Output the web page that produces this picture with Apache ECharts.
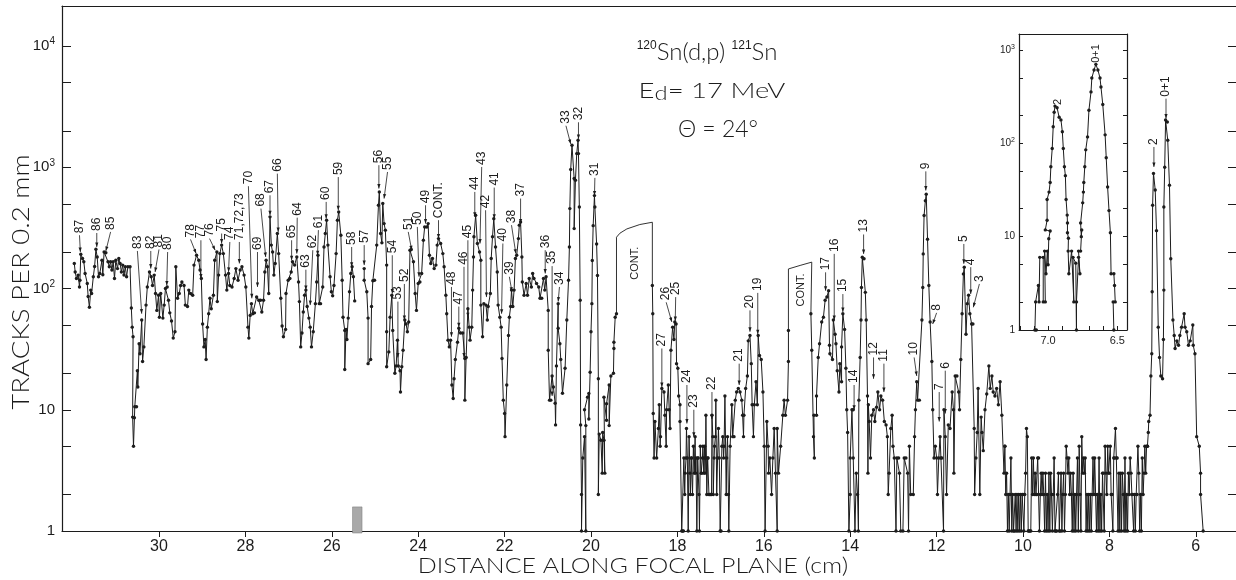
<!DOCTYPE html>
<html><head><meta charset="utf-8">
<style>html,body{margin:0;padding:0;background:#fff}#c{width:1236px;height:580px}</style>
<script src="https://cdn.jsdelivr.net/npm/echarts@6/dist/echarts.min.js"></script>
</head><body><div id="c"></div>
<script>
// Values: [distance in cm, tracks per 0.2 mm]
const farRegion = [[31.96,161],[31.94,137],[31.91,121],[31.87,129],[31.84,103],[31.83,117],[31.81,192],[31.77,177],[31.74,166],[31.71,133],[31.66,110],[31.64,86],[31.61,70],[31.58,97],[31.56,91],[31.52,125],[31.49,152],[31.46,211],[31.43,182],[31.40,125],[31.37,133],[31.32,171],[31.30,130],[31.27,200],[31.23,197],[31.18,166],[31.15,151],[31.12,166],[31.09,142],[31.06,166],[31.03,121],[31.00,171],[30.96,146],[30.93,177],[30.90,161],[30.87,137],[30.84,156],[30.81,129],[30.78,151],[30.75,125],[30.72,151],[30.67,151],[30.64,69],[30.62,48],[30.60,40],[30.61,8.7],[30.57,8.6],[30.59,5],[30.56,10.6],[30.52,10.6],[30.50,21],[30.49,15.4],[30.46,35],[30.44,29],[30.40,55],[30.38,25],[30.35,33],[30.30,73],[30.27,103],[30.22,137],[30.18,125],[30.15,106],[30.11,129],[30.08,91],[30.05,66],[30.01,88],[29.99,58],[29.96,91],[29.91,57],[29.88,73],[29.85,100],[29.81,103],[29.78,80],[29.75,63],[29.71,54],[29.67,39],[29.63,44],[29.61,151],[29.57,83],[29.53,91],[29.50,106],[29.47,113],[29.42,106],[29.39,73],[29.34,71],[29.31,97],[29.27,91],[29.22,88],[29.19,156],[29.13,188],[29.08,171],[29.05,142],[29.02,121],[28.99,51],[28.96,33],[28.93,38],[28.91,26],[28.88,48],[28.85,62],[28.82,83],[28.79,68],[28.74,88],[28.71,171],[28.66,200],[28.65,78],[28.62,129],[28.59,194],[28.55,228],[28.51,194],[28.46,129],[28.43,97],[28.39,133],[28.36,106],[28.31,103],[28.26,121],[28.22,146],[28.17,117],[28.12,142],[28.08,151],[28.03,129],[27.99,103],[27.94,48],[27.92,39],[27.89,60],[27.86,75],[27.83,62],[27.79,63],[27.74,85],[27.69,80],[27.65,80],[27.62,64],[27.58,80],[27.55,137],[27.52,171],[27.49,151],[27.46,91],[27.43,390],[27.40,228],[27.37,200],[27.34,129],[27.31,161],[27.26,284],[27.23,194],[27.18,83],[27.15,49],[27.12,40],[27.07,46],[27.06,91],[27.01,117],[26.97,121],[26.94,137],[26.91,166],[26.86,156],[26.81,182],[26.77,113],[26.75,78],[26.72,33],[26.69,43],[26.66,64],[26.63,88],[26.60,97],[26.57,71],[26.53,57],[26.50,48],[26.47,33],[26.43,44],[26.38,75],[26.35,113],[26.32,188],[26.29,75],[26.26,75],[26.21,103],[26.18,220],[26.15,284],[26.12,366],[26.09,228],[26.04,125],[26.01,94],[25.98,87],[25.95,106],[25.90,194],[25.87,366],[25.84,428],[25.79,275],[25.76,117],[25.74,58],[25.70,45],[25.70,21.5],[25.67,46],[25.65,38],[25.62,57],[25.59,94],[25.56,133],[25.53,151],[25.50,125],[25.47,79]];
const midRegion = [[25.25,146],[25.25,117],[25.19,94],[25.16,57],[25.16,24],[25.10,26],[25.08,71],[25.05,116],[25.01,117],[24.96,228],[24.92,486],[24.90,626],[24.87,284],[24.84,238],[24.82,503],[24.79,343],[24.76,303],[24.73,156],[24.73,44],[24.73,22.6],[24.68,30],[24.65,58],[24.61,88],[24.59,45],[24.54,20],[24.51,23],[24.48,37.5],[24.46,23],[24.42,21],[24.41,14],[24.38,22.6],[24.35,31],[24.31,55],[24.28,51],[24.25,44],[24.22,53],[24.19,207],[24.16,210],[24.11,166],[24.07,91],[24.04,66],[24.00,110],[23.96,113],[23.92,133],[23.88,250],[23.85,322],[23.80,322],[23.77,343],[23.74,188],[23.71,161],[23.67,177],[23.63,146],[23.59,156],[23.56,228],[23.53,258],[23.48,235],[23.43,194],[23.40,151],[23.36,88],[23.34,62],[23.31,37.5],[23.28,33],[23.25,37.5],[23.22,16],[23.19,12.4],[23.17,18],[23.14,26],[23.09,36],[23.06,47],[23.02,43],[22.97,43],[22.92,26.5],[22.92,12],[22.89,27],[22.85,68],[22.82,48],[22.80,37.5],[22.76,48],[22.74,97],[22.72,182],[22.71,267],[22.67,402],[22.63,235],[22.58,200],[22.55,171],[22.55,73],[22.51,40],[22.48,75],[22.43,73],[22.40,55],[22.38,71],[22.33,91],[22.31,177],[22.28,267],[22.25,377],[22.21,220],[22.17,137],[22.15,73],[22.11,58],[22.08,48],[22.06,26.5],[22.03,12],[22.00,9.3],[21.99,6],[21.95,16],[21.91,41],[21.89,58],[21.86,71],[21.84,97],[21.81,71],[21.78,97],[21.75,177],[21.72,188],[21.68,258],[21.66,333],[21.63,354],[21.60,182],[21.59,113],[21.55,88],[21.50,110],[21.47,88],[21.43,121],[21.38,103],[21.35,133],[21.32,121],[21.26,110],[21.21,103],[21.18,83],[21.14,83],[21.10,121],[21.07,97],[21.04,125],[20.99,66],[20.99,31],[20.96,12],[20.93,12],[20.90,19],[20.87,15.4],[20.83,11.3],[20.82,7.5],[20.80,23],[20.76,75],[20.76,47],[20.72,35],[20.70,26],[20.66,13.7],[20.60,22],[20.56,55],[20.52,117],[20.50,220],[20.49,456],[20.47,957],[20.44,1520],[20.39,807],[20.39,312],[20.36,781],[20.33,1296],[20.30,1670],[20.29,1296],[20.27,470],[20.25,80],[20.24,7.5],[20.22,2],[20.22,1],[20.19,4],[20.15,6],[20.12,1],[20.12,7.4],[20.15,10],[20.08,12.7],[20.05,13.6],[20.05,8.4],[20.02,20.4],[20.00,44],[19.98,75],[19.97,170],[19.95,330],[19.92,584],[19.91,470],[19.87,233],[19.85,128],[19.83,18],[19.83,2],[19.81,6.3],[19.77,5.6],[19.74,3],[19.73,6.5],[19.70,5.6],[19.68,3],[19.70,12.7],[19.64,8.2],[19.64,11.2],[19.58,16],[19.58,7.4],[19.54,19],[19.48,20],[19.47,32],[19.47,36],[19.44,58],[19.41,62]];
const lowRegion = [[18.58,106],[18.57,62],[18.56,9.3],[18.54,4],[18.52,8],[18.48,4],[18.44,7],[18.42,11],[18.40,5],[18.39,6],[18.36,15],[18.31,14],[18.29,9],[18.26,5],[18.25,10],[18.21,16],[18.19,10],[18.17,7],[18.15,31],[18.11,48],[18.08,38],[18.06,53],[18.03,51],[18.02,24],[17.99,22],[17.97,13],[17.94,11],[17.94,8],[17.90,1],[17.88,1],[17.86,1],[17.85,4],[17.83,2],[17.82,3],[17.80,4],[17.79,7],[17.77,4],[17.75,1],[17.73,6],[17.71,3],[17.70,2],[17.68,4],[17.67,4],[17.65,2],[17.63,5],[17.61,3],[17.59,6],[17.58,3],[17.57,4],[17.55,1],[17.53,4],[17.52,4],[17.50,2],[17.49,1],[17.47,5],[17.45,3],[17.44,3],[17.42,4],[17.41,5],[17.39,3],[17.38,4],[17.37,5],[17.36,3],[17.35,4],[17.34,9],[17.32,2],[17.30,4],[17.29,4],[17.27,2],[17.25,2],[17.23,2],[17.21,2],[17.20,9],[17.18,6],[17.17,2],[17.15,4],[17.14,5],[17.12,6],[17.11,12],[17.09,2],[17.07,4],[17.05,7],[17.03,4],[17.01,1],[16.99,1],[16.97,5],[16.95,6],[16.93,4],[16.92,5],[16.90,13],[16.87,2],[16.86,4],[16.84,6],[16.82,2],[16.81,1],[16.78,5],[16.74,11],[16.72,6],[16.69,6],[16.66,12],[16.63,14],[16.59,15],[16.55,14],[16.51,12],[16.49,9],[16.47,6],[16.46,9],[16.42,15],[16.38,19],[16.36,37],[16.32,41],[16.29,24],[16.27,11],[16.24,6],[16.22,11],[16.18,17],[16.15,11],[16.13,41],[16.10,28],[16.06,26],[16.02,14],[15.99,5],[15.97,1],[15.93,8],[15.90,5],[15.89,3],[15.86,4],[15.82,2],[15.79,4],[15.76,7],[15.73,3],[15.69,1],[15.69,7],[15.66,3],[15.61,5],[15.56,9],[15.53,12],[15.50,9],[15.45,12],[15.43,25],[15.43,45]];
const nearRegion = [[14.91,62],[14.89,31],[14.85,6],[14.83,4],[14.84,9],[14.78,9],[14.78,13],[14.74,27],[14.71,35],[14.66,53],[14.62,58],[14.58,80],[14.54,85],[14.50,96],[14.48,34],[14.47,29],[14.41,26],[14.39,55],[14.35,42],[14.33,35],[14.30,21],[14.26,14],[14.24,24],[14.20,17],[14.20,33],[14.17,62],[14.13,46],[14.10,22],[14.08,10],[14.06,6.5],[14.03,1],[14.00,2],[14.00,4],[13.96,10],[13.93,10],[13.93,4],[13.89,1],[13.86,3],[13.83,2],[13.81,1],[13.80,12],[13.77,27],[13.75,55],[13.74,102],[13.72,181],[13.68,176],[13.65,93],[13.63,55],[13.60,13],[13.59,3],[13.58,11],[13.56,8],[13.53,4],[13.50,9],[13.46,10],[13.43,8],[13.39,10.5],[13.36,14],[13.32,10],[13.29,13],[13.25,12],[13.21,8],[13.17,7.5],[13.14,6],[13.12,2],[13.10,3],[13.06,7],[13.03,9],[13.01,5],[12.98,4],[12.94,1],[12.92,4],[12.88,4],[12.86,3],[12.83,1],[12.78,1],[12.75,4],[12.71,4],[12.67,3],[12.65,1],[12.63,5],[12.60,2],[12.54,2],[12.51,6],[12.49,10],[12.46,17],[12.44,12],[12.40,12],[12.34,55],[12.32,102],[12.31,193],[12.29,400],[12.26,530],[12.24,600],[12.21,255],[12.18,106],[12.15,53],[12.11,25],[12.09,10],[12.06,4],[12.03,5],[12.00,4],[11.98,2],[11.95,4],[11.92,6],[11.90,4],[11.88,4],[11.84,1],[11.83,10],[11.80,6],[11.77,2],[11.73,7.5],[11.69,7],[11.64,14],[11.61,10],[11.60,3],[11.57,19],[11.53,19],[11.49,14],[11.47,10],[11.44,26],[11.41,62],[11.38,132],[11.36,150],[11.32,42],[11.29,75],[11.26,88],[11.23,62],[11.19,51],[11.16,51],[11.13,7],[11.12,2],[11.09,4],[11.06,6.5],[11.04,15],[11.00,2],[10.97,8.7],[10.95,6.5],[10.92,4.6],[10.88,10],[10.84,13.5],[10.79,23],[10.76,15],[10.72,19],[10.69,14],[10.65,13],[10.61,15],[10.57,11],[10.53,17],[10.49,9],[10.44,3],[10.42,5]];
const quietRegion = [[10.42,5],[10.40,2],[10.38,3],[10.36,1],[10.34,2],[10.32,1],[10.30,2],[10.28,4],[10.26,1],[10.24,2],[10.22,1],[10.20,1],[10.18,2],[10.16,1],[10.14,2],[10.12,1],[10.10,2],[10.08,1],[10.06,2],[10.04,1],[10.02,2],[10.00,2],[9.98,1],[9.96,2],[9.94,3],[9.92,7],[9.90,6],[9.88,1],[9.86,1],[9.84,1],[9.82,1],[9.80,4],[9.78,2],[9.76,4],[9.74,2],[9.72,3],[9.70,2],[9.68,2],[9.66,4],[9.64,4],[9.62,1],[9.60,2],[9.58,3],[9.56,2],[9.54,3],[9.52,2],[9.50,1],[9.48,3],[9.46,1],[9.44,2],[9.42,1],[9.40,3],[9.38,1],[9.36,3],[9.34,2],[9.32,1],[9.30,2],[9.28,4],[9.26,1],[9.24,1],[9.22,1],[9.20,2],[9.18,3],[9.16,1],[9.14,1],[9.12,3],[9.10,1],[9.08,2],[9.06,3],[9.04,1],[9.02,2],[9.00,5],[8.98,4],[8.96,3],[8.94,4],[8.92,2],[8.90,3],[8.88,2],[8.86,1],[8.84,3],[8.82,1],[8.80,2],[8.78,1],[8.76,2],[8.74,4],[8.72,1],[8.70,5],[8.68,2],[8.66,1],[8.64,6],[8.62,3],[8.60,4],[8.58,3],[8.56,4],[8.54,1],[8.52,2],[8.50,1],[8.48,2],[8.46,1],[8.44,2],[8.42,1],[8.40,2],[8.38,4],[8.36,2],[8.34,4],[8.32,2],[8.30,1],[8.28,2],[8.26,1],[8.24,4],[8.22,1],[8.20,2],[8.18,1],[8.16,3],[8.14,3],[8.12,1],[8.10,5],[8.08,3],[8.06,2],[8.04,5],[8.02,3],[8.00,3],[7.98,5],[7.96,2],[7.94,2],[7.92,1],[7.90,4],[7.88,4],[7.86,7],[7.84,4],[7.82,4],[7.80,1],[7.78,3],[7.76,1],[7.74,3],[7.72,1],[7.70,3],[7.68,2],[7.66,1],[7.64,4],[7.62,1],[7.60,2],[7.58,1],[7.56,3],[7.54,2],[7.52,4],[7.50,3],[7.48,2],[7.46,2],[7.44,1],[7.42,2],[7.40,1],[7.38,2],[7.36,2],[7.34,5],[7.32,3],[7.30,1],[7.28,2],[7.26,1],[7.24,4],[7.22,2],[7.20,3],[7.18,5],[7.16,3],[7.14,5],[7.12,5]];
const groundRegion = [[7.12,5],[7.10,6.5],[7.09,8],[7.06,9],[7.04,19],[7.02,29],[7.01,94],[7.00,486],[6.98,890],[6.94,650],[6.91,300],[6.87,48],[6.84,27],[6.81,19],[6.77,18],[6.75,38],[6.74,97],[6.74,470],[6.72,1000],[6.70,2450],[6.66,2360],[6.65,1670],[6.61,710],[6.58,176],[6.53,55],[6.50,41],[6.48,32],[6.44,37],[6.40,34],[6.37,41],[6.33,48],[6.27,62],[6.25,48],[6.21,44],[6.17,34],[6.13,37],[6.07,50],[6.06,34],[6.02,29],[5.98,6],[5.92,5],[5.89,3],[5.89,2],[5.83,1]];
const contArcA = [[19.41,62],[19.41,265],[19.33,286],[19.17,310],[18.87,337],[18.58,352],[18.58,106]];
const contArcB = [[15.43,45],[15.43,145],[15.16,155],[14.89,165],[14.91,62]];
const insetSpectrum = [[7.095,1],[7.085,1],[7.09,2],[7.07,3],[7.065,2],[7.06,6],[7.035,6],[7.035,2],[7.02,2],[7.025,7],[7.015,4],[7.005,7],[7.0,5],[6.995,9.5],[6.985,11.5],[7.02,11.8],[7.007,15],[7.007,25],[6.993,30],[6.985,38],[6.98,56],[6.97,88],[6.963,150],[6.956,215],[6.95,250],[6.935,240],[6.92,190],[6.907,178],[6.897,133],[6.89,88],[6.882,56],[6.875,45],[6.87,25],[6.862,17],[6.86,14],[6.86,11],[6.853,9.6],[6.855,7],[6.85,4],[6.83,7],[6.814,2],[6.82,6],[6.80,5.2],[6.795,1],[6.795,2],[6.78,6],[6.77,4],[6.78,7],[6.765,7],[6.757,11.8],[6.76,10],[6.765,14],[6.75,23],[6.745,30],[6.742,38],[6.735,56],[6.728,85],[6.715,117],[6.705,226],[6.69,355],[6.684,500],[6.668,610],[6.655,700],[6.64,610],[6.625,500],[6.618,400],[6.605,260],[6.588,123],[6.58,70],[6.57,34],[6.56,19],[6.55,11],[6.545,4],[6.525,4],[6.52,3],[6.515,2],[6.53,2],[6.525,1]];
const hatchBlock = [[25.52,25.3,1,1.58]];
// text, tail distance, tail tracks, tip distance, tip tracks
const peakLabels = [['87',31.84,275,31.82,200],['86',31.44,287,31.44,220],['85',31.12,293,31.23,204],['83',30.50,204,30.40,62],['82',30.19,204,30.19,146],['81',30.0,210,30.09,137],['80',29.80,200,29.82,106],['78',29.27,254,29.14,194],['77',29.03,250,29.03,121],['76',28.83,258,28.70,207],['75',28.55,284,28.55,235],['74',28.36,242,28.39,137],['71,72,73',28.14,242,28.14,161],['70',27.93,698,27.85,83],['69',27.72,200,27.72,103],['68',27.64,456,27.53,182],['67',27.43,587,27.43,402],['66',27.26,886,27.24,293],['65',26.93,250,26.93,171],['64',26.80,384,26.81,194],['63',26.60,143,26.60,97],['62',26.44,207,26.50,73],['61',26.31,303,26.33,188],['60',26.13,518,26.13,377],['59',25.85,830,25.85,442],['58',25.54,220,25.54,151],['57',25.25,228,25.25,156],['56',24.91,1040,24.91,667],['55',24.71,914,24.79,552],['54',24.60,188,24.60,91],['53',24.47,78,24.47,27],['52',24.32,109,24.32,55],['51',24.23,293,24.15,207],['50',24.02,322,23.98,125],['49',23.83,486,23.83,343],['CONT.',23.53,366,23.53,258],['48',23.23,103,23.23,40],['47',23.06,71,23.06,48],['46',22.94,151,22.94,27],['45',22.85,250,22.85,58],['44',22.69,626,22.69,390],['43',22.53,1006,22.57,235],['42',22.44,442,22.42,85],['41',22.24,680,22.24,377],['40',22.04,235,22.07,62],['39',21.89,125,21.83,94],['38',21.84,333,21.74,194],['37',21.63,552,21.63,343],['36',21.06,207,21.06,133],['35',20.90,153,20.90,13],['34',20.73,103,20.76,78],['33',20.58,2200,20.47,1557],['32',20.29,2350,20.29,1713],['31',19.91,817,19.92,584],['27',18.36,32,18.36,15.4],['26',18.26,77,18.13,53],['25',18.04,85,18.05,54],['24',17.78,16,17.78,7.7],['23',17.62,10,17.62,6],['22',17.20,14,17.20,8.4],['21',16.57,24,16.57,16],['20',16.32,66,16.32,44],['19',16.14,92,16.14,42],['17',14.57,136,14.57,96],['16',14.37,193,14.37,55],['15',14.17,90,14.17,64],['14',13.91,16,13.91,10],['13',13.69,279,13.69,193],['12',13.46,27,13.46,18],['11',13.22,24,13.22,14],['10',12.52,27,12.46,19],['9',12.25,925,12.25,643],['8',12.0,63,12.09,51],['7',11.94,14,11.94,8],['6',11.80,21,11.80,9.3],['5',11.37,233,11.37,160],['4',11.21,150,11.21,90],['3',11.01,109,11.15,70],['2',6.97,1470,6.97,1006],['0+1',6.69,3680,6.69,2520]];
const plainLabels = [['CONT.',18.98,118],['CONT.',15.14,71]];
const insetLabels = [['2',6.93,257],['0+1',6.655,727]];
const xTickValues = [30,28,26,24,22,20,18,16,14,12,10,8,6];
const yTickValues = [1,2,5,10,20,50,100,200,500,1000,2000,5000,10000];
const yLabelValues = [1,10,100,1000,10000];
const insetXTicks = [7.2,7.1,7.0,6.9,6.8,6.7,6.6,6.5];
const insetXLabels = [7.0,6.5];
const insetYTicks = [1,2,5,10,20,50,100,200,500,1000];
const insetYLabels = [1,10,100,1000];

const INK = '#1c1c1c';
const FONT = '"Liberation Sans", Arial, sans-serif';
const THIN = 'Lato, "Liberation Sans", sans-serif';
const supMap = {1:'1',10:'10',100:'{b|10}{s|2}',1000:'{b|10}{s|3}',10000:'{b|10}{s|4}'};
function yAxis(grid, pos, ticks, labels, len, fs, ss, margin){
  return {type:'log',logBase:10,gridIndex:grid,position:pos,min:1,
    axisLine:{show:true,onZero:false,lineStyle:{color:INK,width:1.2}},
    axisTick:{show:true,inside:true,length:len,customValues:ticks,lineStyle:{color:INK,width:1}},
    minorTick:{show:false},splitLine:{show:false},
    axisLabel:{show:!!labels,customValues:labels||[],margin:margin,color:INK,fontFamily:FONT,fontSize:fs,
      formatter:v=>supMap[Math.round(v)]||String(v),
      rich:{b:{fontSize:fs,color:INK,fontFamily:FONT},s:{fontSize:ss,color:INK,fontFamily:FONT,padding:[0,0,fs*0.6,0]}}}};
}
function lineSeries(data,x,y,thin){
  return {type:'line',data:data,xAxisIndex:x,yAxisIndex:y,silent:true,animation:false,smooth:false,
    showSymbol:!thin,showAllSymbol:true,symbol:thin?'none':'circle',symbolSize:3.4,
    lineStyle:{color:INK,width:thin?0.9:1},itemStyle:{color:INK},clip:false,z:3};
}
function arrows(){
  return {type:'custom',xAxisIndex:0,yAxisIndex:0,silent:true,animation:false,clip:false,z:5,
    data:peakLabels.map(r=>[r[1],r[2],r[3],r[4]]),encode:{x:[0,2],y:[1,3]},
    renderItem:(p,api)=>{
      const a=api.coord([api.value(0),api.value(1)]), b=api.coord([api.value(2),api.value(3)]);
      const ang=Math.atan2(b[1]-a[1],b[0]-a[0]), s=4.5, w=1.6;
      const bx=b[0]-Math.cos(ang)*s, by=b[1]-Math.sin(ang)*s, nx=-Math.sin(ang)*w, ny=Math.cos(ang)*w;
      return {type:'group',children:[
        {type:'line',shape:{x1:a[0],y1:a[1],x2:b[0],y2:b[1]},style:{stroke:INK,lineWidth:0.8}},
        {type:'polygon',shape:{points:[[b[0],b[1]],[bx+nx,by+ny],[bx-nx,by-ny]]},style:{fill:INK}},
        {type:'text',x:a[0],y:a[1]-2,rotation:Math.PI/2,
          style:{text:peakLabels[p.dataIndex][0],align:'left',verticalAlign:'middle',fill:INK,font:'12px '+FONT}}
      ]};
    }};
}
function plainText(list,x,y,size){
  return {type:'custom',xAxisIndex:x,yAxisIndex:y,silent:true,animation:false,clip:false,z:5,
    data:list.map(r=>[r[1],r[2]]),encode:{x:0,y:1},
    renderItem:(p,api)=>{const a=api.coord([api.value(0),api.value(1)]);
      return {type:'text',x:a[0],y:a[1],rotation:Math.PI/2,
        style:{text:list[p.dataIndex][0],align:'left',verticalAlign:'middle',fill:INK,font:size+'px '+FONT}};}};
}
const hatch = {type:'custom',xAxisIndex:0,yAxisIndex:0,silent:true,animation:false,clip:false,z:6,
  data:hatchBlock,encode:{x:[0,1],y:[2,3]},
  renderItem:(p,api)=>{const a=api.coord([api.value(0),api.value(3)]),b=api.coord([api.value(1),api.value(2)]);
    return {type:'rect',shape:{x:a[0],y:a[1],width:b[0]-a[0],height:b[1]-a[1]+2},style:{fill:'#a9a9a9',stroke:'#777',lineWidth:0.5}};}};

const chart = echarts.init(document.getElementById('c'),null,{renderer:'canvas'});
chart.setOption({
  animation:false,backgroundColor:'#fff',
  grid:[{left:62,right:0,top:6,bottom:49},{left:1019,right:109,top:34,bottom:250}],
  xAxis:[
    {type:'value',gridIndex:0,inverse:true,min:5.07,max:32.245,position:'bottom',
     axisLine:{show:true,onZero:false,lineStyle:{color:INK,width:1.2}},
     axisTick:{show:true,inside:false,length:6,customValues:xTickValues,lineStyle:{color:INK}},
     splitLine:{show:false},
     axisLabel:{customValues:xTickValues,margin:8,color:INK,fontFamily:FONT,fontSize:16}},
    {type:'value',gridIndex:0,inverse:true,min:5.07,max:32.245,position:'top',
     axisLine:{show:true,onZero:false,lineStyle:{color:INK,width:1.2}},axisTick:{show:false},axisLabel:{show:false},splitLine:{show:false}},
    {type:'value',gridIndex:1,inverse:true,min:6.43,max:7.21,position:'bottom',
     axisLine:{show:true,onZero:false,lineStyle:{color:INK,width:1}},
     axisTick:{show:true,inside:true,length:4,customValues:insetXTicks,lineStyle:{color:INK}},
     splitLine:{show:false},
     axisLabel:{customValues:insetXLabels,margin:5,color:INK,fontFamily:FONT,fontSize:11,formatter:v=>v.toFixed(1)}},
    {type:'value',gridIndex:1,inverse:true,min:6.43,max:7.21,position:'top',
     axisLine:{show:true,onZero:false,lineStyle:{color:INK,width:1}},axisTick:{show:false},axisLabel:{show:false},splitLine:{show:false}}
  ],
  yAxis:[
    Object.assign(yAxis(0,'left',yTickValues,yLabelValues,9,15,10,7),{max:21380}),
    Object.assign(yAxis(0,'right',yTickValues,null,8,12,8,0),{max:21380,axisLine:{show:false}}),
    Object.assign(yAxis(1,'left',insetYTicks,insetYLabels,4,10,7,4),{max:1480}),
    Object.assign(yAxis(1,'right',insetYTicks,null,4,10,7,0),{max:1480})
  ],
  series:[
    lineSeries(farRegion,0,0),lineSeries(midRegion,0,0),lineSeries(lowRegion,0,0),lineSeries(nearRegion,0,0),
    lineSeries(quietRegion,0,0),lineSeries(groundRegion,0,0),
    lineSeries(contArcA,0,0,true),lineSeries(contArcB,0,0,true),
    lineSeries(insetSpectrum,2,2),
    arrows(),plainText(plainLabels,0,0,11),plainText(insetLabels,2,2,11),hatch
  ],
  graphic:[
    {type:'text',x:22,y:282,rotation:Math.PI/2,scaleX:1.2,style:{text:'TRACKS PER 0.2 mm',align:'center',verticalAlign:'middle',fill:INK,font:'300 23px '+THIN}},
    {type:'text',x:633,y:566,scaleX:1.19,style:{text:'DISTANCE ALONG FOCAL PLANE (cm)',align:'center',verticalAlign:'middle',fill:INK,font:'300 21px '+THIN}},
    {type:'text',x:707,y:52,style:{rich:{s:{fontSize:12,fontFamily:FONT,fill:INK,padding:[0,0,12,0]},m:{fontSize:24,fontFamily:THIN,fontWeight:300,fill:INK}},
      text:'{s|120}{m|Sn(d,p) }{s|121}{m|Sn}',align:'center',verticalAlign:'middle'}},
    {type:'text',x:712,y:91,scaleX:1.25,style:{rich:{m:{fontSize:22,fontFamily:THIN,fontWeight:300,fill:INK},d:{fontSize:19,fontFamily:THIN,fontWeight:300,fill:INK,padding:[6,0,0,0]}},
      text:'{m|E}{d|d}{m|= 17 MeV}',align:'center',verticalAlign:'middle'}},
    {type:'text',x:718,y:130,style:{text:'\u0398 = 24\u00B0',align:'center',verticalAlign:'middle',fill:INK,font:'300 23px '+THIN}}
  ]
});
</script></body></html>
